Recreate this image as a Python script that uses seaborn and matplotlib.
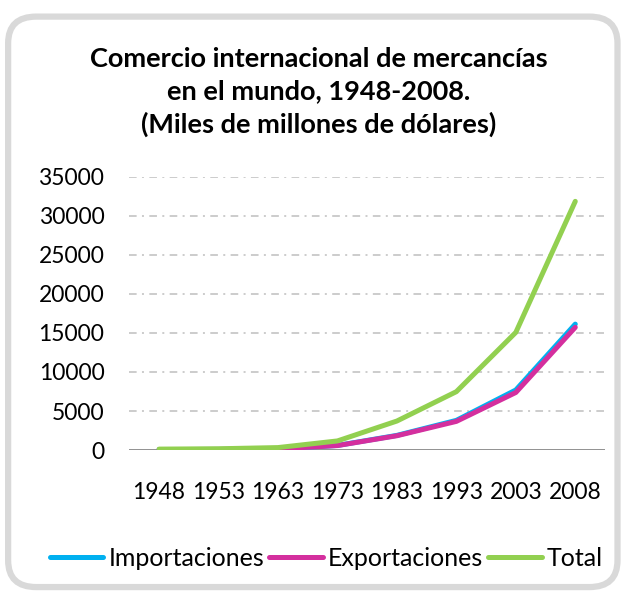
import pandas as pd
import matplotlib.pyplot as plt
import seaborn as sns
from matplotlib.patches import FancyBboxPatch

# Datos (miles de millones de dólares)
years = ["1948", "1953", "1963", "1973", "1983", "1993", "2003", "2008"]
importaciones = [66, 85, 164, 594, 1883, 3806, 7696, 16128]
exportaciones = [59, 84, 157, 579, 1838, 3675, 7375, 15717]
total = [125, 169, 321, 1173, 3721, 7481, 15071, 31845]

series = ["Importaciones", "Exportaciones", "Total"]
colors = ["#00b0f0", "#d42f9e", "#92d050"]
yticks = [0, 5000, 10000, 15000, 20000, 25000, 30000, 35000]

df = pd.DataFrame({
    "year": years * 3,
    "value": importaciones + exportaciones + total,
    "serie": [s for s in series for _ in years],
})

sns.set_style("white")
plt.rcParams["font.family"] = ["Lato", "DejaVu Sans"]
plt.rcParams["text.color"] = "black"
plt.rcParams["xtick.color"] = "black"
plt.rcParams["ytick.color"] = "black"

fig = plt.figure(figsize=(6.25, 5.93), dpi=100)
ax = fig.add_axes([0.207, 0.241, 0.761, 0.461])

# marco redondeado
frame = FancyBboxPatch((0.013, 0.01), 0.975, 0.962, boxstyle="round,pad=0,rounding_size=0.045",
                       transform=fig.transFigure, facecolor="white", edgecolor="#d9d9d9",
                       linewidth=4.5, zorder=-10)
fig.patches.append(frame)

# rejilla punto-raya
for v in yticks[1:]:
    ax.axhline(v, color="#bfbfbf", linewidth=1.1, linestyle=(0, (5, 3.5, 1.3, 3.5)), zorder=0)
ax.axhline(0, color="#898989", linewidth=1.3, zorder=1)

sns.lineplot(data=df, x="year", y="value", hue="serie", hue_order=series, palette=colors,
             linewidth=3.6, sort=False, ax=ax, legend=True, zorder=3)
for ln in ax.get_lines():
    ln.set_solid_capstyle("round")

ax.set_xlim(-0.5, 7.5)
ax.set_ylim(0, 35000)
ax.set_yticks(yticks)
ax.set_yticklabels([str(v) for v in yticks])
ax.tick_params(axis="y", length=0, pad=18, labelsize=16.5)
ax.tick_params(axis="x", length=0, pad=23, labelsize=16.5)
ax.set_xlabel("")
ax.set_ylabel("")
for s in ax.spines.values():
    s.set_visible(False)
ax.patch.set_alpha(0)

handles, labels = ax.get_legend_handles_labels()
ax.legend_.remove()
leg = fig.legend(handles, labels, loc="center", bbox_to_anchor=(0.522, 0.058), ncol=3, frameon=False,
                 fontsize=18, handlelength=2.15, handletextpad=0.2, columnspacing=0.2,
                 borderpad=0, borderaxespad=0)

fig.text(0.51, 0.845, "Comercio internacional de mercancías\nen el mundo, 1948-2008.\n(Miles de millones de dólares)",
         ha="center", va="center", fontsize=19.5, fontweight="bold", linespacing=1.42)

fig.savefig("out.png", dpi=100)
